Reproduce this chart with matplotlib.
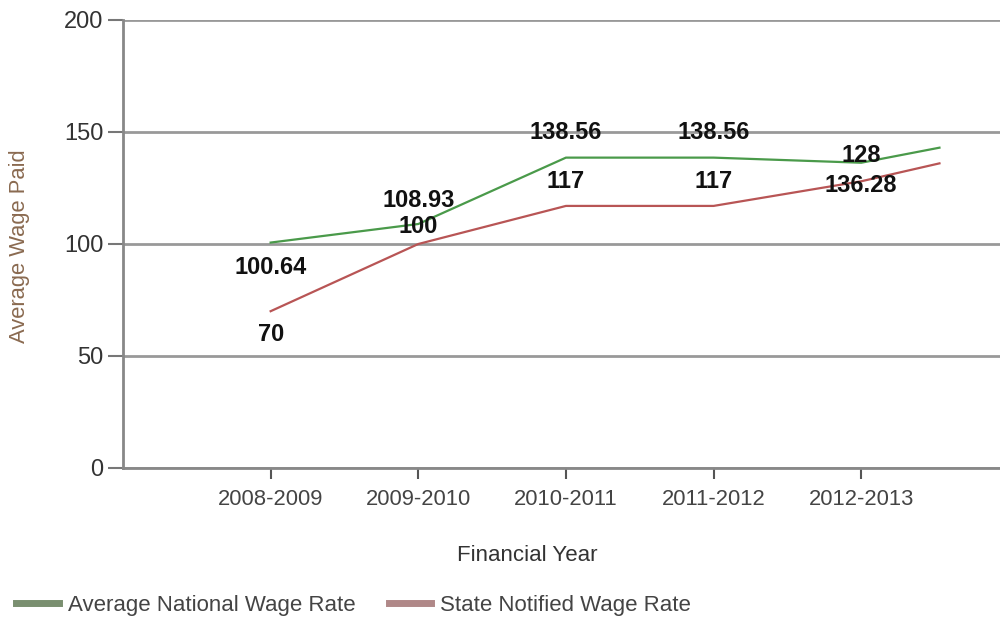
import matplotlib
matplotlib.use("Agg")
import matplotlib.pyplot as plt
from matplotlib.lines import Line2D

plt.rcParams["font.family"] = ["Liberation Sans", "DejaVu Sans"]

years = ["2008-2009", "2009-2010", "2010-2011", "2011-2012", "2012-2013"]
x_pos = [0, 1, 2, 3, 4, 4.53]           # last point runs past the final category
national = [100.64, 108.93, 138.56, 138.56, 136.28, 143]
state = [70, 100, 117, 117, 128, 136]

# value labels as printed on the chart: (category, text, label height in data units)
labels_nat = [(0, "100.64", 89.7), (1, "108.93", 119.6), (2, "138.56", 149.6),
              (3, "138.56", 149.6), (4, "128", 139.7)]
labels_state = [(0, "70", 59.4), (1, "100", 107.6), (2, "117", 127.7),
                (3, "117", 127.7), (4, "136.28", 126.3)]

GREEN = "#4a9a4a"
RED = "#b85555"
GRID = "#999999"

fig = plt.figure(figsize=(10, 6.21), dpi=100)
ax = fig.add_axes([0.123, 1 - 468 / 621, 0.877, 448 / 621])

ax.plot(x_pos, national, color=GREEN, lw=1.6, zorder=3)
ax.plot(x_pos, state, color=RED, lw=1.6, zorder=3)

for k, t, y in labels_nat + labels_state:
    ax.text(k, y, t, ha="center", va="center", fontsize=17,
            fontweight="bold", color="#111111", zorder=4)

ax.set_xlim(-1.0, 4.94)
ax.set_ylim(0, 200)
ax.set_yticks([0, 50, 100, 150, 200])
ax.set_xticks(range(len(years)))
ax.set_xticklabels(years)
ax.yaxis.grid(True, color=GRID, lw=2)
ax.set_axisbelow(True)
for s in ["top", "right"]:
    ax.spines[s].set_visible(False)
for s in ["left", "bottom"]:
    ax.spines[s].set_color("#888888")
    ax.spines[s].set_linewidth(2)
ax.tick_params(axis="y", length=11, width=1.5, color="#777777",
               labelsize=17, labelcolor="#333333", pad=3)
ax.tick_params(axis="x", length=8, width=1.5, color="#555555",
               labelsize=15.8, labelcolor="#444444", pad=7)

ax.set_xlabel("Financial Year", fontsize=16, color="#333333")
ax.xaxis.set_label_coords(0.461, -0.172)
ax.set_ylabel("Average Wage Paid", fontsize=15.8, color="#8a6a50")
ax.yaxis.set_label_coords(-0.106, 0.496)

handles = [Line2D([], [], color="#7a8f70", lw=5),
           Line2D([], [], color="#b08888", lw=5)]
fig.legend(handles, ["Average National Wage Rate", "State Notified Wage Rate"],
           loc="center left", bbox_to_anchor=(0.012, 1 - 605 / 621), ncol=2,
           frameon=False, fontsize=16, handlelength=1.9, handletextpad=0.4,
           columnspacing=1.5, borderpad=0.2, borderaxespad=0,
           labelcolor="#444444")

fig.savefig("out.png", dpi=100)
